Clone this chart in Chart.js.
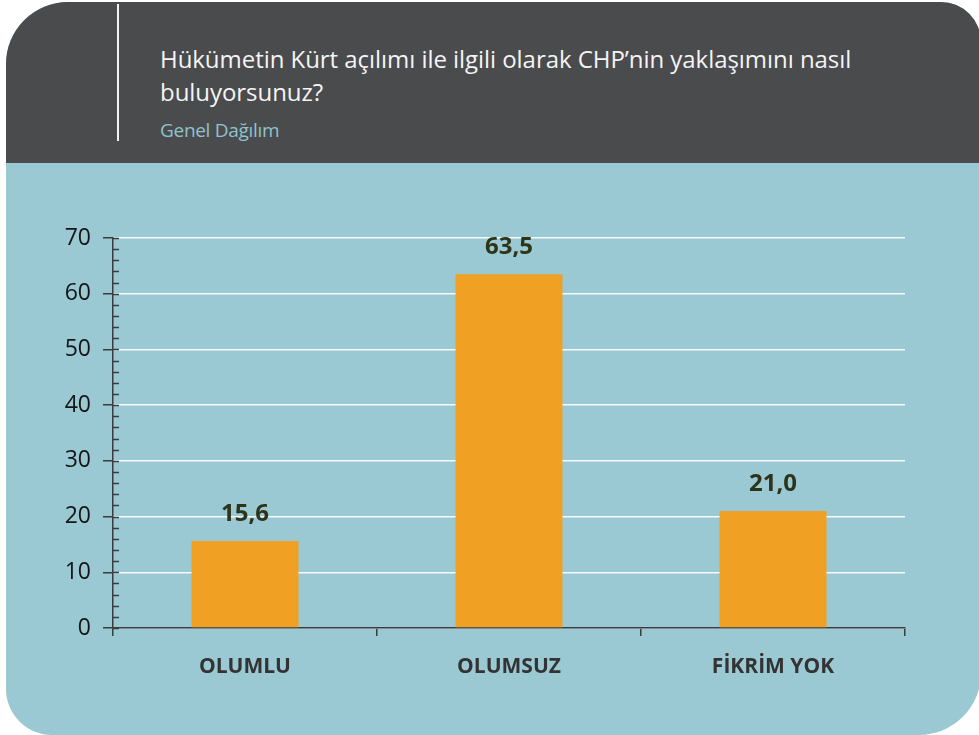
<!DOCTYPE html>
<html>
<head>
<meta charset="utf-8">
<script src="https://cdn.jsdelivr.net/npm/chart.js@4.4.1/dist/chart.umd.min.js"></script>
<style>
  html, body { margin: 0; padding: 0; background: #fff; }
  body { width: 979px; height: 735px; position: relative; overflow: hidden; font-family: "Open Sans", sans-serif; }
  .card {
    position: absolute; left: 6px; top: 2px; width: 975px; height: 733px;
    background: #9ac8d3; border-radius: 62px 40px 62px 46px; overflow: hidden;
  }
  .head {
    position: absolute; left: 0; top: 0; right: 0; height: 161px; background: #4a4b4d;
  }
  .bar-line { position: absolute; left: 111px; top: 2px; width: 2px; height: 137px; background: #f2f2f2; }
  .title {
    position: absolute; left: 154px; top: 40px; width: 800px;
    color: #f4f4f4; font-size: 24px; line-height: 33px; letter-spacing: -0.05px;
  }
  .sub {
    position: absolute; left: 154px; top: 115px; color: #8fc3ce; font-size: 19px; letter-spacing: -0.3px;
  }
  #wrap { position: absolute; left: 0; top: 163px; width: 979px; height: 572px; }
</style>
</head>
<body>
<div class="card">
  <div class="head">
    <div class="bar-line"></div>
    <div class="title">Hükümetin Kürt açılımı ile ilgili olarak CHP’nin yaklaşımını nasıl<br>buluyorsunuz?</div>
    <div class="sub">Genel Dağılım</div>
  </div>
</div>
<div id="wrap"><canvas id="chart" width="979" height="572"></canvas></div>
<script>
const kategoriler = ['OLUMLU', 'OLUMSUZ', 'FİKRİM YOK'];
const oranlar = [15.6, 63.5, 21.0];
const yMax = 70;
const yAdim = 10;

// kleine Striche an der Y-Achse + Werte über den Balken
const extras = {
  id: 'extras',
  afterDraw(chart) {
    const ctx = chart.ctx;
    const y = chart.scales.y;
    const left = chart.chartArea.left;
    ctx.save();
    ctx.strokeStyle = '#3a3d3f';
    ctx.lineWidth = 1.5;
    for (let v = 0; v <= yMax; v += 2) {
      const py = Math.round(y.getPixelForValue(v)) + 0.5;
      ctx.beginPath();
      ctx.moveTo(left, py);
      ctx.lineTo(left + 6, py);
      ctx.stroke();
    }
    ctx.font = 'bold 24px "Open Sans", sans-serif';
    ctx.fillStyle = '#2e3419';
    ctx.textAlign = 'center';
    ctx.textBaseline = 'alphabetic';
    const meta = chart.getDatasetMeta(0);
    meta.data.forEach((bar, i) => {
      ctx.fillText(oranlar[i].toFixed(1).replace('.', ','), bar.x, bar.y - 20);
    });
    ctx.restore();
  }
};

new Chart(document.getElementById('chart'), {
  type: 'bar',
  data: {
    labels: kategoriler,
    datasets: [{
      data: oranlar,
      backgroundColor: '#f0a022',
      categoryPercentage: 1,
      barPercentage: 0.405
    }]
  },
  options: {
    responsive: false,
    animation: false,
    layout: { padding: { top: 75, right: 74, left: 0, bottom: 0 } },
    plugins: { legend: { display: false }, tooltip: { enabled: false } },
    scales: {
      x: {
        grid: { drawOnChartArea: false, tickLength: 8, color: '#3a3d3f', lineWidth: 1.5 },
        border: { color: '#3a3d3f', width: 1.5 },
        ticks: {
          color: '#333333', padding: 18,
          font: { family: '"Open Sans", sans-serif', size: 21, weight: 'bold' }
        },
        afterFit(scale) { scale.height = 107; }
      },
      y: {
        min: 0, max: yMax,
        grid: { color: 'rgba(255,255,255,0.9)', lineWidth: 1.5, tickLength: 10, tickColor: '#3a3d3f' },
        border: { color: '#3a3d3f', width: 1.5 },
        ticks: {
          stepSize: yAdim, color: '#151515', padding: 12,
          font: { family: '"Open Sans", sans-serif', size: 23 }
        },
        afterFit(scale) { scale.width = 113; }
      }
    }
  },
  plugins: [extras]
});
</script>
</body>
</html>
